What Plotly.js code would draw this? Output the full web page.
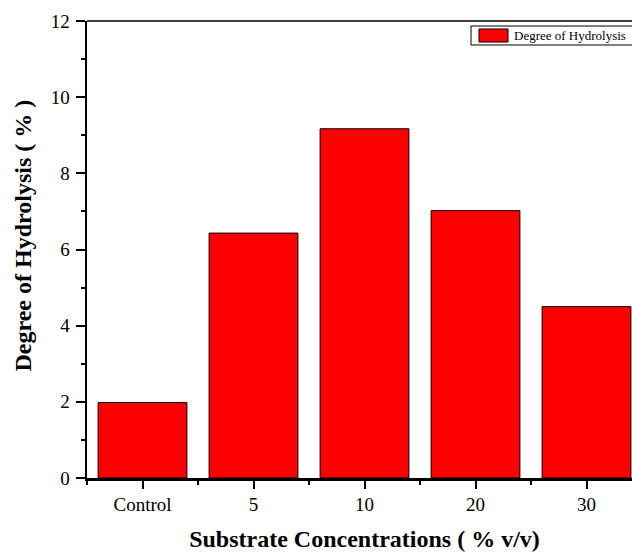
<!DOCTYPE html>
<html>
<head>
<meta charset="utf-8">
<script src="https://cdn.plot.ly/plotly-3.0.1.min.js"></script>
<style>html,body{margin:0;padding:0;overflow:hidden;background:#fff;width:632px;height:552px;}</style>
</head>
<body>
<div id="chart" style="width:652px;height:552px;"></div>
<script>
const categories = ["Control", "5", "10", "20", "30"];
const hydrolysis = [1.98, 6.43, 9.17, 7.02, 4.50];
const yTicks = [0, 2, 4, 6, 8, 10, 12];
const seriesName = "Degree of Hydrolysis";
const xTitle = "Substrate Concentrations ( % v/v)";
const yTitle = "Degree of Hydrolysis ( % )";

const positions = categories.map((c, i) => i);

const trace = {
  type: "bar",
  x: positions,
  y: hydrolysis,
  name: seriesName,
  width: 0.8,
  marker: {color: "#ff0000", line: {color: "#000000", width: 1}},
  hoverinfo: "y"
};

const serif = "Liberation Serif";

const layout = {
  width: 652, height: 552,
  margin: {l: 87, r: 10, t: 21, b: 74},
  paper_bgcolor: "#fff", plot_bgcolor: "#fff",
  showlegend: false,
  font: {family: serif, color: "#000"},
  xaxis: {
    range: [-0.5, 4.5],
    tickmode: "array", tickvals: positions, ticktext: categories,
    ticks: "outside", ticklen: 8, tickwidth: 2, tickcolor: "#000",
    minor: {tickmode: "linear", tick0: 0.5, dtick: 1, ticks: "outside", ticklen: 4, tickwidth: 2, tickcolor: "#000"},
    showline: true, linewidth: 2.5, linecolor: "#000",
    showgrid: false, zeroline: false,
    tickfont: {family: serif, size: 19, color: "#000"},
    title: {text: xTitle, font: {family: serif, size: 24, color: "#000", weight: "bold"}, standoff: 20}
  },
  yaxis: {
    range: [0, 12],
    tickmode: "array", tickvals: yTicks,
    ticks: "outside", ticklen: 9, tickwidth: 2, tickcolor: "#000",
    ticklabelstandoff: 2,
    minor: {tickmode: "linear", tick0: 1, dtick: 2, ticks: "outside", ticklen: 4, tickwidth: 2, tickcolor: "#000"},
    showline: true, linewidth: 2.5, linecolor: "#000",
    showgrid: false, zeroline: false,
    tickfont: {family: serif, size: 19, color: "#000"}
  },
  shapes: [
    {type: "line", xref: "paper", yref: "paper", x0: 0, x1: 1, y0: 1, y1: 1, line: {color: "#000", width: 1.3}},
    {type: "rect", xref: "paper", yref: "paper", x0: 0.6919, x1: 1.0, y0: 0.9475, y1: 0.989, line: {color: "#000", width: 1}, fillcolor: "#fff"},
    {type: "rect", xref: "paper", yref: "paper", x0: 0.7063, x1: 0.7586, y0: 0.954, y1: 0.9825, line: {color: "#000", width: 1}, fillcolor: "#ff0000"}
  ],
  annotations: [
    {xref: "paper", yref: "paper", x: 0.7658, y: 0.968, xanchor: "left", yanchor: "middle", showarrow: false,
     text: seriesName, font: {family: serif, size: 13, color: "#000"}},
    {xref: "paper", yref: "paper", x: 0, y: 0.5306, xanchor: "center", yanchor: "middle", xshift: -64, textangle: -90, showarrow: false,
     text: yTitle, font: {family: serif, size: 24, color: "#000", weight: "bold"}}
  ]
};

Plotly.newPlot("chart", [trace], layout, {displayModeBar: false, staticPlot: true});
</script>
</body>
</html>
